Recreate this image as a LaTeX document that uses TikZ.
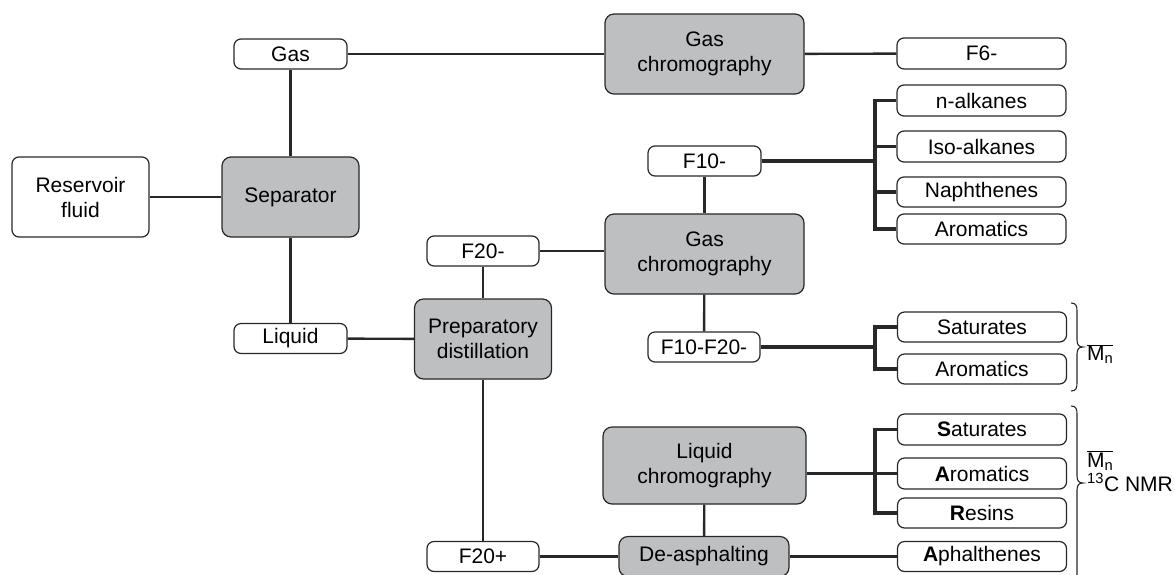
\documentclass[tikz,border=0pt]{standalone}
\usepackage{fontspec}
\setmainfont{Liberation Sans}
\usetikzlibrary{calc}
\definecolor{boxgray}{RGB}{190,191,193}
\definecolor{linec}{RGB}{40,40,40}
\begin{document}
\begin{tikzpicture}[x=1pt,y=-1pt,
  box/.style={draw=linec, line width=1.2pt, rounded corners=7pt, fill=white, inner sep=0pt, align=center, font=\fontsize{21}{25}\selectfont},
  proc/.style={box, fill=boxgray, rounded corners=9pt},
  small/.style={minimum width=113pt, minimum height=30pt},
  wide/.style={minimum width=169pt, minimum height=30pt},
  big/.style={minimum width=137pt, minimum height=80pt},
  conn/.style={line width=2.4pt, draw=linec},
  brl/.style={line width=3.2pt, draw=linec},
  bracec/.style={line width=1.1pt, draw=linec},
  note/.style={inner sep=0pt, align=left, anchor=west, font=\fontsize{21}{24}\selectfont}]
\clip (0,0) rectangle (1175,574);
\fill[white] (0,0) rectangle (1175,574);
% left part
\node[box, big] (res) at (80.5,197) {Reservoir\\fluid};
\node[proc, big] (sep) at (290.5,197) {Separator};
\node[box, small] (gas) at (290.5,54) {Gas};
\node[box, small] (liq) at (290.5,338.5) {Liquid};
\node[proc, big] (prep) at (483,339) {Preparatory\\distillation};
\node[box, small, minimum width=112pt] (f20m) at (483,251) {F20-};
\node[box, small, minimum width=112pt] (f20p) at (483,556.5) {F20+};
% gas chromatography
\node[proc, minimum width=199pt, minimum height=80pt] (gc1) at (704.5,54) {Gas\\chromography};
\node[box, wide, minimum height=31pt] (f6) at (981.5,53.5) {F6-};
\node[proc, minimum width=199pt, minimum height=80pt] (gc2) at (704.5,254) {Gas\\chromography};
\node[box, small] (f10) at (704.5,161) {F10-};
\node[box, small, minimum width=112pt] (f1020) at (704,347) {F10-F20-};
\node[box, wide, minimum height=31pt] (nalk) at (981.5,100.5) {n-alkanes};
\node[box, wide, minimum height=31pt] (iso) at (981.5,146.5) {Iso-alkanes};
\node[box, wide] (naph) at (981.5,192) {Naphthenes};
\node[box, wide] (arom1) at (981.5,229) {Aromatics};
\node[box, wide] (sat1) at (982,327) {Saturates};
\node[box, wide] (arom2) at (982,369) {Aromatics};
% liquid chromatography
\node[proc, minimum width=203pt, minimum height=77pt] (lc) at (704.5,465.5) {Liquid\\chromography};
\node[proc, minimum width=170pt, minimum height=40pt] (deas) at (704,556.5) {De-asphalting};
\node[box, wide, minimum height=31pt] (sat2) at (982,429.5) {\textbf{S}aturates};
\node[box, wide, minimum height=31pt] (arom3) at (982,473.5) {\textbf{A}romatics};
\node[box, wide] (res2) at (982,513) {\textbf{R}esins};
\node[box, wide] (aph) at (982,556.5) {\textbf{A}phalthenes};
\coordinate (br) at (875,0);
% connectors
\draw[conn] (res) -- (sep);
\draw[conn] (gas) -- (sep);
\draw[conn] (sep) -- (liq);
\draw[conn] (gas) -- (gc1);
\draw[conn] (gc1) -- (f6);
\draw[conn] (liq) -- (prep);
\draw[conn] (f20m) -- (prep);
\draw[conn] (f20m.east) -- (f20m.east -| gc2.west);
\draw[conn] (prep) -- (f20p);
\draw[conn] (f20p) -- (deas);
\draw[conn] (deas) -- (aph);
\draw[conn] (lc) -- (deas);
\draw[conn] (f10) -- (gc2);
\draw[conn] (gc2) -- (f1020);
% branches
\draw[brl] (f10) -- (f10 -| br);
\draw[brl, line join=miter] (nalk.west) -- (nalk.west -| br) -- (arom1.west -| br) -- (arom1.west);
\draw[brl] (iso.west -| br) -- (iso.west);
\draw[brl] (naph.west -| br) -- (naph.west);
\draw[brl] (f1020) -- (f1020 -| br);
\draw[brl, line join=miter] (sat1.west) -- (sat1.west -| br) -- (arom2.west -| br) -- (arom2.west);
\draw[brl] (lc.east |- arom3) -- (arom3.west);
\draw[brl, line join=miter] (sat2.west) -- (sat2.west -| br) -- (res2.west -| br) -- (res2.west);
% braces
\draw[bracec] (1071,303) .. controls (1076,303) and (1077,306) .. (1077,311) -- (1077,340)
  .. controls (1077,345) and (1079,347) .. (1083,347)
  .. controls (1079,347) and (1077,349) .. (1077,354) -- (1077,383)
  .. controls (1077,388) and (1076,391) .. (1071,391);
\draw[bracec] (1071,406) .. controls (1076,406) and (1077,409) .. (1077,414) -- (1077,476)
  .. controls (1077,481) and (1079,483) .. (1083,483)
  .. controls (1079,483) and (1077,485) .. (1077,490) -- (1077,580);
\node[note] (mn1) at (1087,354) {$\overline{\hbox{M\textsubscript{n}}}$};
\node[note] (mn2) at (1087,471) {$\overline{\hbox{M\textsubscript{n}}}$\\\textsuperscript{13}C NMR};
\end{tikzpicture}
\end{document}
